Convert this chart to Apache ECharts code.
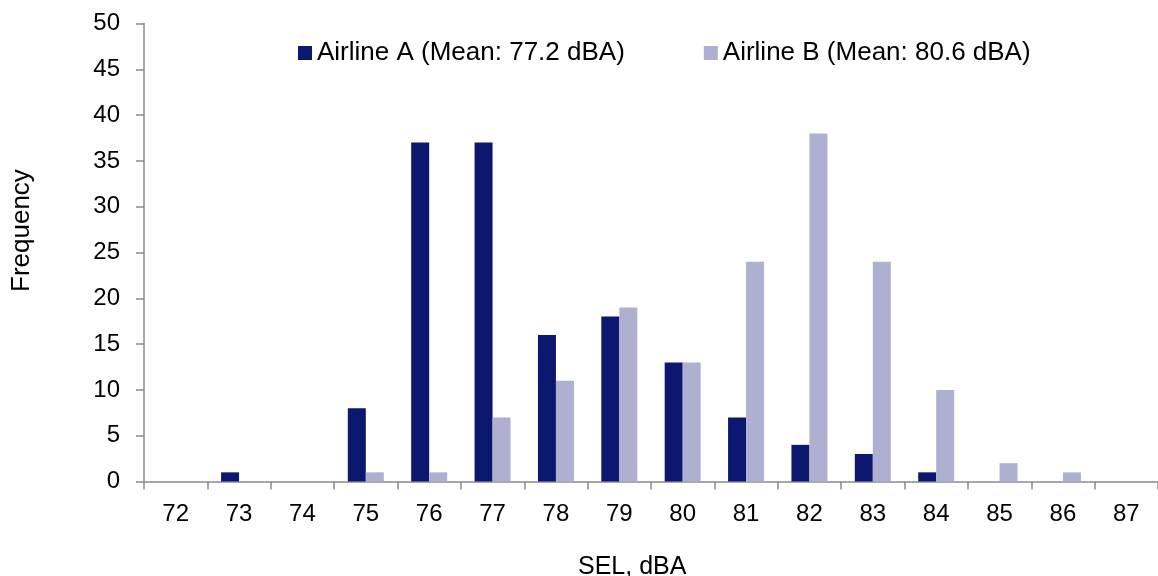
<!DOCTYPE html>
<html>
<head>
<meta charset="utf-8">
<script src="https://cdn.jsdelivr.net/npm/echarts@6/dist/echarts.min.js"></script>
<style>
  html, body { margin: 0; padding: 0; background: #ffffff; }
  #chart { width: 1158px; height: 576px; }
</style>
</head>
<body>
<div id="chart"></div>
<script>
// SEL bins (dBA)
const categories = ['72', '73', '74', '75', '76', '77', '78', '79', '80', '81', '82', '83', '84', '85', '86', '87'];
// Number of events per SEL bin
const airlineA = [0, 1, 0, 8, 37, 37, 16, 18, 13, 7, 4, 3, 1, 0, 0, 0];
const airlineB = [0, 0, 0, 1, 1, 7, 11, 19, 13, 24, 38, 24, 10, 2, 1, 0];
const seriesNames = ['Airline A (Mean: 77.2 dBA)', 'Airline B (Mean: 80.6 dBA)'];
const yTicks = { min: 0, max: 50, interval: 5 };

const FONT = '"Liberation Sans", Arial, sans-serif';
const AXIS_GREY = '#8a8a8a';

const chart = echarts.init(document.getElementById('chart'), null, { renderer: 'canvas' });

chart.setOption({
  animation: false,
  backgroundColor: '#ffffff',
  textStyle: { fontFamily: FONT },
  grid: { left: 144, top: 23.5, width: 1022, height: 458, containLabel: false },
  legend: {
    left: 293,
    top: 35,
    itemWidth: 14,
    itemHeight: 14,
    itemGap: 79,
    icon: 'rect',
    textStyle: { fontFamily: FONT, fontSize: 26, color: '#000000' },
    data: seriesNames
  },
  xAxis: {
    type: 'category',
    data: categories,
    boundaryGap: true,
    axisLine: { lineStyle: { color: AXIS_GREY, width: 1.5 } },
    axisTick: { show: true, length: 8, inside: false, lineStyle: { color: AXIS_GREY, width: 1.5 } },
    axisLabel: { fontFamily: FONT, fontSize: 24, color: '#000000', margin: 21 },
    splitLine: { show: false }
  },
  yAxis: {
    type: 'value',
    min: yTicks.min,
    max: yTicks.max,
    interval: yTicks.interval,
    axisLine: { show: true, lineStyle: { color: AXIS_GREY, width: 1.5 } },
    axisTick: { show: true, length: 8, inside: false, lineStyle: { color: AXIS_GREY, width: 1.5 } },
    axisLabel: { fontFamily: FONT, fontSize: 24, color: '#000000', margin: 24 },
    splitLine: { show: false }
  },
  graphic: [
    {
      type: 'text',
      left: 578,
      top: 555,
      style: { text: 'SEL, dBA', font: '25px ' + FONT, fill: '#000000' }
    },
    {
      type: 'text',
      x: 9,
      y: 292,
      rotation: Math.PI / 2,
      style: { text: 'Frequency', font: '26px ' + FONT, fill: '#000000' }
    }
  ],
  series: [
    {
      name: seriesNames[0],
      type: 'bar',
      data: airlineA,
      barWidth: 18,
      barGap: '0%',
      itemStyle: { color: '#0c186f' }
    },
    {
      name: seriesNames[1],
      type: 'bar',
      data: airlineB,
      barWidth: 18,
      barGap: '0%',
      itemStyle: { color: '#adb0d1' }
    }
  ]
});
</script>
</body>
</html>
